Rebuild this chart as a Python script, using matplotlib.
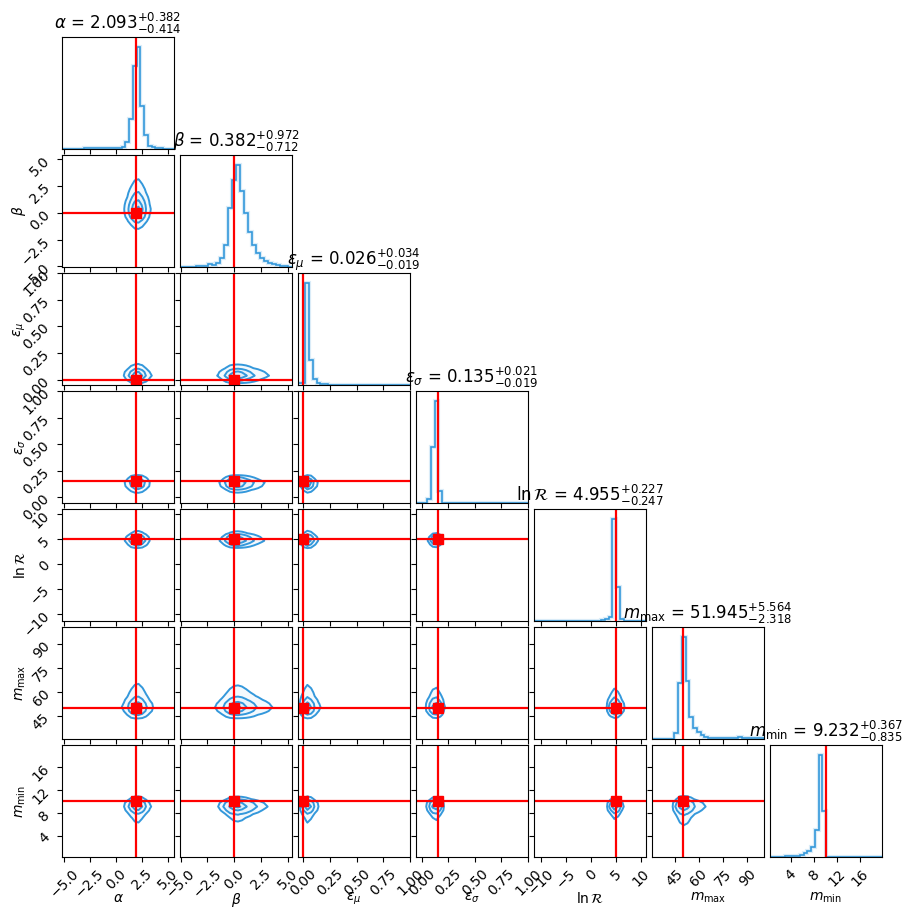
import numpy as np
import matplotlib
matplotlib.use("Agg")
import matplotlib.pyplot as plt
from matplotlib.colors import to_rgba

# ---------------- data ----------------
labels = [r"$\alpha$", r"$\beta$", r"$\varepsilon_{\mu}$", r"$\varepsilon_{\sigma}$",
          r"$\ln\mathcal{R}$", r"$m_{\rm max}$", r"$m_{\rm min}$"]
medians = [2.093, 0.382, 0.026, 0.135, 4.955, 51.945, 9.232]
err_plus = [0.382, 0.972, 0.034, 0.021, 0.227, 5.564, 0.367]
err_minus = [0.414, 0.712, 0.019, 0.019, 0.247, 2.318, 0.835]
truths = [1.9, 0.0, 0.0, 0.15, 5.0, 50.0, 10.0]
range_lo = [-5.2, -5.05, -0.05, -0.053, -11.5, 31.0, 0.35]
range_hi = [5.6, 5.4, 1.0, 1.0, 11.1, 100.4, 19.8]
tick_sets = [
    [-5.0, -2.5, 0.0, 2.5, 5.0],
    [-5.0, -2.5, 0.0, 2.5, 5.0],
    [0.0, 0.25, 0.5, 0.75, 1.0],
    [0.0, 0.25, 0.5, 0.75, 1.0],
    [-10, -5, 0, 5, 10],
    [45, 60, 75, 90],
    [4, 8, 12, 16],
]

hist_alpha = [0.003, 0.003, 0.003, 0.004, 0.004, 0.004, 0.005, 0.005, 0.005, 0.006,
              0.006, 0.007, 0.008, 0.009, 0.010, 0.013, 0.020, 0.065, 0.29, 0.82,
              1.0, 0.42, 0.14, 0.03, 0.016, 0.008, 0.005, 0.004, 0.003, 0.003]
hist_beta = [0.003, 0.003, 0.003, 0.004, 0.010, 0.010, 0.013, 0.026, 0.016, 0.043,
             0.09, 0.22, 0.58, 0.85, 1.0, 0.75, 0.53, 0.34, 0.22, 0.14,
             0.085, 0.06, 0.036, 0.026, 0.016, 0.010, 0.007, 0.004]
hist_eps_mu = [0.02, 0.02, 1.0, 0.25, 0.06, 0.02, 0.007, 0.005, 0.004, 0.004,
               0.003, 0.003, 0.002, 0.003, 0.0, 0.003, 0.002, 0.003, 0.0, 0.002,
               0.003, 0.0, 0.002, 0.002, 0.0, 0.002, 0.002, 0.0, 0.002, 0.002]
hist_eps_sigma = [0.0, 0.0, 0.0, 0.036, 0.55, 1.0, 0.12, 0.004, 0.003, 0.0,
                  0.0, 0.0, 0.002, 0.0, 0.0, 0.002, 0.003, 0.0, 0.002, 0.0,
                  0.002, 0.003, 0.0, 0.002, 0.002, 0.0, 0.002, 0.003, 0.0, 0.002]
hist_lnR = [0.0, 0.0, 0.0, 0.0, 0.0, 0.0, 0.0, 0.0, 0.0, 0.0,
            0.0, 0.0, 0.0, 0.0, 0.0, 0.001, 0.002, 0.003, 0.012, 0.016,
            0.04, 1.0, 0.33, 0.016, 0.004, 0.001, 0.0, 0.0, 0.0, 0.0]
hist_mmax = [0.0, 0.0, 0.0, 0.0, 0.0, 0.0, 0.06, 0.55, 1.0, 0.57,
             0.22, 0.105, 0.066, 0.04, 0.023, 0.013, 0.013, 0.013, 0.013, 0.013,
             0.013, 0.013, 0.013, 0.02, 0.013, 0.007, 0.007, 0.007, 0.007, 0.007]
hist_mmin = [0.0, 0.0, 0.0, 0.0, 0.01, 0.01, 0.01, 0.01, 0.023, 0.04,
             0.055, 0.1, 0.27, 1.0, 0.45, 0.0, 0.0, 0.0, 0.0, 0.0,
             0.0, 0.0, 0.0, 0.0, 0.0, 0.0, 0.0, 0.0, 0.0, 0.0]
hists = [hist_alpha, hist_beta, hist_eps_mu, hist_eps_sigma, hist_lnR, hist_mmax, hist_mmin]

# ---------------- style ----------------
color = "#3498db"
truth_color = "red"
masses = 1.0 - np.exp(-0.5 * np.arange(0.5, 2.1, 0.5) ** 2)

K = len(labels)
fig, axes = plt.subplots(K, K, figsize=(9.13, 9.19), dpi=100)
fig.subplots_adjust(left=62 / 913, right=882 / 913, bottom=1 - 857 / 919,
                    top=1 - 37 / 919, wspace=6 / 112, hspace=6 / 112)


def edges_of(i):
    return np.linspace(range_lo[i], range_hi[i], len(hists[i]) + 1)


def gauss_smooth(v, sigma=0.75, pad=3):
    v = np.concatenate([np.zeros(pad), np.asarray(v, float), np.zeros(pad)])
    x = np.arange(-4, 5)
    k = np.exp(-0.5 * (x / sigma) ** 2)
    k /= k.sum()
    return np.convolve(v, k, mode="same")


def padded_centers(i, pad=3):
    e = edges_of(i)
    w = e[1] - e[0]
    c = 0.5 * (e[1:] + e[:-1])
    return np.concatenate([c[0] - w * np.arange(pad, 0, -1), c, c[-1] + w * np.arange(1, pad + 1)])


def levels_for(H):
    Hflat = H.flatten()
    Hs = np.sort(Hflat)[::-1]
    sm = np.cumsum(Hs)
    sm /= sm[-1]
    V = np.empty(len(masses))
    for k, v0 in enumerate(masses):
        sel = Hs[sm <= v0]
        V[k] = sel[-1] if len(sel) else Hs[0]
    V.sort()
    m = np.diff(V) == 0
    while np.any(m):
        V[np.where(m)[0][0]] *= 1.0 - 1e-4
        m = np.diff(V) == 0
    V.sort()
    return V


def fmt_title(i):
    return "{0} = ${1:.3f}_{{-{2:.3f}}}^{{+{3:.3f}}}$".format(
        labels[i], medians[i], err_minus[i], err_plus[i])


for row in range(K):
    for col in range(K):
        ax = axes[row, col]
        if col > row:
            ax.set_frame_on(False)
            ax.set_xticks([])
            ax.set_yticks([])
            continue
        if col == row:
            i = row
            e = edges_of(i)
            h = np.asarray(hists[i], float)
            ax.stairs(h, e, color=color, lw=3.0, alpha=0.18)
            ax.stairs(h, e, color=color, lw=1.2)
            ax.axvline(truths[i], color=truth_color, lw=1.6)
            ax.set_xlim(range_lo[i], range_hi[i])
            ax.set_ylim(0, 1.1 * h.max())
            ax.set_yticks([])
            ax.set_title(fmt_title(i), fontsize=12)
        else:
            ix, iy = col, row
            hx = gauss_smooth(hists[ix])
            hy = gauss_smooth(hists[iy])
            hx = hx / hx.sum()
            hy = hy / hy.sum()
            H = np.outer(hy, hx)
            X = padded_centers(ix)
            Y = padded_centers(iy)
            V = levels_for(H)
            fill_levels = np.concatenate([V, [H.max() * 1.0001]])
            fill_cols = [to_rgba(color, a) for a in (0.05, 0.10, 0.16, 0.24)]
            ax.contourf(X, Y, H, levels=fill_levels, colors=fill_cols, antialiased=False)
            ax.contour(X, Y, H, levels=V, colors=color, linewidths=1.4)
            ax.axvline(truths[ix], color=truth_color, lw=1.6)
            ax.axhline(truths[iy], color=truth_color, lw=1.6)
            ax.plot(truths[ix], truths[iy], "s", color=truth_color, markersize=7)
            ax.set_xlim(range_lo[ix], range_hi[ix])
            ax.set_ylim(range_lo[iy], range_hi[iy])
            ax.set_yticks(tick_sets[iy])
            if col == 0:
                ax.set_ylabel(labels[iy], fontsize=10)
                ax.yaxis.set_label_coords(-0.3, 0.5)
                for lab in ax.get_yticklabels():
                    lab.set_rotation(45)
            else:
                ax.set_yticklabels([])
        ax.set_xticks(tick_sets[col])
        if row == K - 1:
            ax.set_xlabel(labels[col], fontsize=10)
            ax.xaxis.set_label_coords(0.5, -0.3)
            for lab in ax.get_xticklabels():
                lab.set_rotation(45)
        else:
            ax.set_xticklabels([])

fig.savefig("out.png", dpi=100)
